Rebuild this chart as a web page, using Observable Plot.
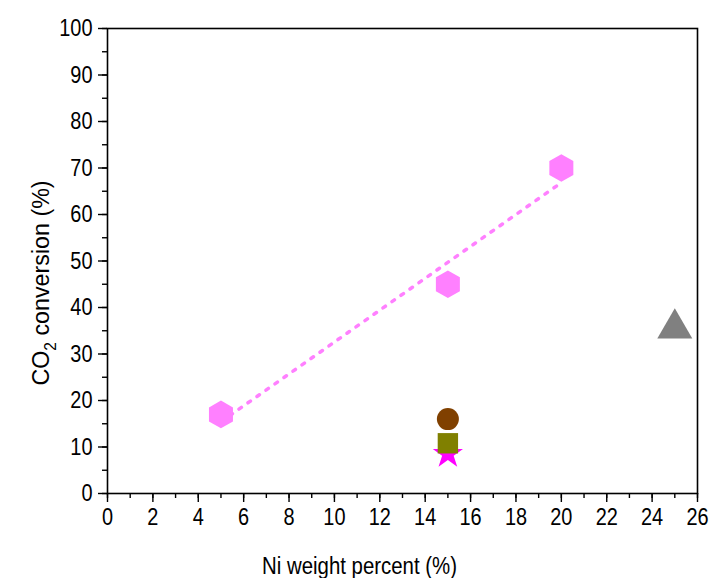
<!DOCTYPE html>
<html>
<head>
<meta charset="utf-8">
<script src="https://cdn.jsdelivr.net/npm/d3@7"></script>
<script src="https://cdn.jsdelivr.net/npm/@observablehq/plot@0.6"></script>
<style>
  html, body { margin: 0; padding: 0; background: #fff; }
  #chart svg { font-family: "Liberation Sans", Arial, sans-serif; }
</style>
</head>
<body>
<div id="chart"></div>
<script>
// Data
const hexX = [5, 15, 20];
const hexY = [17, 45, 70];
const circleX = [15];
const circleY = [16];
const squareX = [15];
const squareY = [10.8];
const starX = [15];
const starY = [8.5];
const triX = [25];
const triY = [35.5];

const xMajor = d3.range(0, 27, 2);
const xMinor = d3.range(0, 27, 1);
const yMajor = d3.range(0, 101, 10);
const yMinor = d3.range(0, 101, 5);

const toRows = (xs, ys) => xs.map((x, i) => ({x, y: ys[i]}));
const hex = toRows(hexX, hexY);
const circ = toRows(circleX, circleY);
const sq = toRows(squareX, squareY);
const star = toRows(starX, starY);
const tri = toRows(triX, triY);

const plot = Plot.plot({
  width: 709,
  height: 578,
  marginLeft: 107,
  marginRight: 12,
  marginTop: 28,
  marginBottom: 85,
  style: {fontSize: "24px", color: "#000", background: "#fff"},
  x: {domain: [0, 26]},
  y: {domain: [0, 100]},
  marks: [
    Plot.frame({stroke: "#000", strokeWidth: 1.6}),
    Plot.axisX({ticks: xMinor, tickSize: 5, text: null, label: null, strokeWidth: 1.4}),
    Plot.axisX({ticks: xMajor, tickSize: 9, tickPadding: 5, strokeWidth: 1.4, fontSize: 24,
      label: "Ni weight percent (%)", labelAnchor: "center", labelArrow: "none", labelOffset: 80}),
    Plot.axisY({ticks: yMinor, tickSize: 5, text: null, label: null, strokeWidth: 1.4}),
    Plot.axisY({ticks: yMajor, tickSize: 9, tickPadding: 6, strokeWidth: 1.4, fontSize: 24,
      label: "CO2 conversion (%)", labelAnchor: "center", labelArrow: "none", labelOffset: 76}),
    Plot.linearRegressionY(hex, {x: "x", y: "y", ci: 0, stroke: "#ff80ff", strokeWidth: 3.5,
      strokeDasharray: "3,8", strokeLinecap: "round"}),
    Plot.dot(hex, {x: "x", y: "y", symbol: "hexagon", r: 12, fill: "#ff80ff", stroke: "none"}),
    Plot.dot(tri, {x: "x", y: "y", symbol: "triangle", r: 13, fill: "#808080", stroke: "none"}),
    Plot.dot(star, {x: "x", y: "y", symbol: "star", r: 9.5, fill: "#ff00ff", stroke: "none"}),
    Plot.dot(sq, {x: "x", y: "y", symbol: "square", r: 11.5, fill: "#808000", stroke: "none"}),
    Plot.dot(circ, {x: "x", y: "y", symbol: "circle", r: 11, fill: "#804000", stroke: "none"})
  ]
});

// Condensed, tall text like the reference; label shifts; subscript
const ns = "http://www.w3.org/2000/svg";
plot.querySelectorAll("text").forEach(t => {
  const tr = t.getAttribute("transform") || "";
  let extra = " scale(0.83,1)";
  if (t.textContent === "CO2 conversion (%)") {
    extra = " translate(-22,0) scale(0.97,1)";
    t.textContent = "";
    const a = document.createElementNS(ns, "tspan"); a.textContent = "CO";
    const b = document.createElementNS(ns, "tspan"); b.textContent = "2";
    b.setAttribute("font-size", "16"); b.setAttribute("dy", "7");
    const c = document.createElementNS(ns, "tspan"); c.textContent = " conversion (%)";
    c.setAttribute("dy", "-7");
    t.append(a, b, c);
  } else if (t.textContent === "Ni weight percent (%)") {
    extra = " translate(-43,0) scale(0.85,1)";
  }
  t.setAttribute("transform", tr + extra);
});
document.getElementById("chart").append(plot);
</script>
</body>
</html>
